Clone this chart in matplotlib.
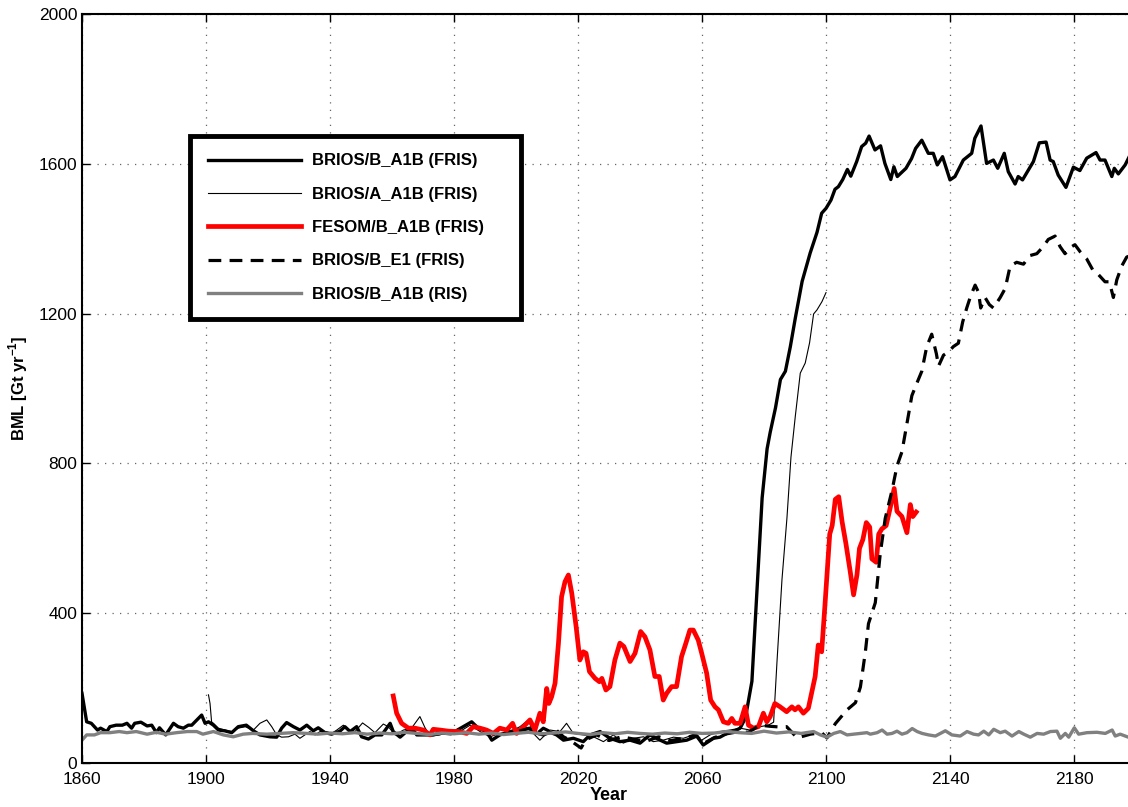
import numpy as np
import matplotlib
matplotlib.use('Agg')
import matplotlib.pyplot as plt

plt.rcParams['font.family'] = ['Liberation Sans', 'DejaVu Sans']
plt.rcParams['mathtext.fontset'] = 'custom'
plt.rcParams['mathtext.rm'] = 'Liberation Sans'
plt.rcParams['mathtext.bf'] = 'Liberation Sans:bold'

# BRIOS/B_A1B (FRIS) - thick black
bab_years = [1860, 1861.5, 1863, 1864, 1865, 1866, 1868, 1869, 1871, 1873, 1874.5, 1876, 1877, 1879,
             1881, 1882.5, 1884, 1885, 1887, 1889.5, 1891, 1892.7, 1894.3, 1895.4, 1898.6, 1899.7,
             1900.8, 1902.4, 1904, 1906, 1908.3, 1910.4, 1913, 1915.3, 1917.4, 1920.6, 1922.8, 1924.4,
             1926, 1928.2, 1930.3, 1932.5, 1934.6, 1936.2, 1938.4, 1940.5, 1943.2, 1944.8, 1946.5,
             1948.6, 1950.2, 1952.4, 1954.5, 1956.7, 1959.4, 1960.4, 1962.6, 1964.7, 1966.9, 1968,
             1970.6, 1973.3, 1976, 1979, 1983, 1985.7, 1987.8, 1990.5, 1992.2, 1994.8, 1998.1, 2000.8,
             2004.5, 2006.5, 2008.8, 2011, 2013.1, 2015.3, 2018.5, 2021.7, 2023.9, 2027.1, 2030.3,
             2033.5, 2036.8, 2040, 2043.2, 2046.5, 2048.6, 2051.8, 2055.1, 2058.3, 2060.4, 2063.7,
             2065.8, 2068, 2070.1, 2072.3, 2074, 2076.1, 2077.2, 2078.3, 2079.4, 2081, 2082, 2083.7,
             2085.3, 2086.9, 2088.5, 2090.1, 2092.3, 2094.9, 2097.1, 2098.6, 2100, 2101.6, 2102.9,
             2104, 2105.4, 2106.9, 2108, 2109.9, 2111.5, 2112.8, 2113.9, 2115.8, 2117.6, 2119, 2120.9,
             2121.9, 2123, 2125.8, 2127.6, 2128.9, 2130.9, 2133, 2134.6, 2135.9, 2137.6, 2140, 2141.6,
             2144.3, 2147, 2148, 2150, 2151.8, 2154, 2155.4, 2157.5, 2158.8, 2161, 2162, 2163.4,
             2166.9, 2168.8, 2171, 2172.3, 2173.3, 2174.9, 2177.4, 2179.8, 2181.9, 2184.1, 2187.1,
             2188.4, 2190, 2192.2, 2193, 2194.3, 2196.5, 2198, 2200]
bab_vals = [186, 110, 106, 97, 88, 93, 84, 97, 101, 101, 106, 93, 106, 109,
            99, 101, 81, 94, 75, 106, 97, 93, 101, 101, 128, 106,
            110, 101, 88, 86, 81, 97, 101, 86, 75, 70, 69, 93,
            108, 97, 88, 101, 86, 94, 81, 77, 85, 97, 84,
            97, 70, 64, 75, 75, 106, 84, 69, 84, 88, 75,
            75, 75, 80, 78, 97, 110, 93, 84, 61, 75, 84, 88,
            93, 80, 75, 82, 75, 61, 66, 57, 75, 84, 66,
            57, 61, 53, 75, 61, 53, 57, 61, 72, 48, 66,
            69, 79, 84, 93, 120, 218, 381, 545, 708, 839, 883, 948,
            1024, 1046, 1112, 1188, 1286, 1362, 1417, 1468, 1481, 1503, 1532,
            1539, 1558, 1585, 1567, 1606, 1646, 1655, 1674, 1637, 1648, 1601, 1558,
            1592, 1566, 1588, 1614, 1641, 1663, 1628, 1628, 1597, 1619, 1557, 1566,
            1610, 1628, 1668, 1701, 1601, 1610, 1588, 1628, 1579, 1546, 1566, 1557,
            1606, 1656, 1658, 1610, 1606, 1570, 1537, 1591, 1582, 1615, 1630,
            1610, 1610, 1566, 1588, 1573, 1597, 1622, 1625]

# BRIOS/A_A1B (FRIS) - thin black
baa_years = [1900.8, 1901.3, 1901.8, 1902.4, 1904, 1906.1, 1908.3, 1910.4, 1912.6, 1915.3, 1917.4,
             1919.6, 1921.2, 1922.8, 1924.4, 1926.6, 1928.7, 1930.3, 1931.9, 1933.5, 1935.2, 1936.8,
             1938.9, 1940.5, 1942.2, 1944.3, 1946, 1948.1, 1950.5, 1952.5, 1954.5, 1957.2, 1958.8,
             1961, 1963.7, 1966.3, 1969, 1970.6, 1972.3, 1975.5, 1978.7, 1981.9, 1985.2, 1988.4,
             1991.6, 1994.8, 1998.1, 2001.3, 2004, 2005.6, 2007.7, 2011, 2014.2, 2016.3, 2018.5,
             2021.7, 2025, 2028.2, 2031.4, 2034.6, 2037.9, 2041.1, 2044.3, 2047.5, 2050.8, 2054,
             2057.2, 2059.9, 2062.6, 2065.8, 2069, 2072.3, 2075.5, 2078.7, 2081.4, 2083.1, 2084.2,
             2085.8, 2087.4, 2088.7, 2090.1, 2091.7, 2093.3, 2094.7, 2096, 2097.1, 2098.7, 2100]
baa_vals = [182, 159, 110, 106, 93, 88, 84, 93, 97, 88, 106,
            115, 97, 75, 69, 70, 77, 66, 75, 84, 75, 84,
            84, 79, 88, 101, 88, 84, 107, 95, 81, 104, 97,
            75, 88, 93, 124, 95, 72, 75, 88, 84, 101, 84,
            70, 79, 84, 97, 115, 79, 61, 88, 84, 106, 79,
            75, 70, 57, 75, 53, 66, 70, 57, 61, 69, 66,
            75, 61, 75, 84, 88, 93, 88, 97, 101, 109, 272,
            490, 654, 817, 926, 1041, 1068, 1122, 1199, 1210, 1232, 1256]

# FESOM/B_A1B (FRIS) - red
fes_years = [1960.4, 1961.5, 1963.1, 1965.3, 1967.4, 1970.1, 1972.3, 1973.3, 1975.5, 1978.2, 1981.4,
             1984.1, 1986.2, 1988.4, 1990.5, 1992.7, 1994.8, 1997, 1998.9, 2000.2, 2002.4, 2004.5,
             2006.1, 2007.7, 2008.8, 2009.9, 2010.6, 2011.5, 2012.6, 2013.7, 2014.7, 2015.8, 2016.9,
             2018, 2019.4, 2020.6, 2021.7, 2022.6, 2023.7, 2025.5, 2026.9, 2027.7, 2029, 2030.3,
             2031.9, 2033.5, 2034.8, 2036.8, 2038.4, 2040.2, 2041.6, 2043.2, 2044.8, 2046.2, 2047.5,
             2048.6, 2050.2, 2051.8, 2053.4, 2054.8, 2056.1, 2057.2, 2058.8, 2059.9, 2061.5, 2062.8,
             2064.2, 2065.3, 2066.9, 2068.5, 2069.6, 2070.6, 2072.3, 2073.9, 2075, 2076.6, 2078.2,
             2079.8, 2080.9, 2082, 2083.5, 2085.2, 2087.3, 2089, 2090, 2091.1, 2092.7, 2094.3, 2096.5,
             2097.5, 2098.6, 2099.7, 2101.2, 2102, 2103, 2104.1, 2105.2, 2106.4, 2107.8, 2108.9, 2110,
             2110.8, 2111.9, 2113, 2114.1, 2114.8, 2116.2, 2117, 2118, 2119.4, 2120.7, 2122, 2122.9,
             2124.5, 2126.1, 2127.2, 2128, 2129.1]
fes_vals = [179, 133, 106, 93, 93, 88, 75, 90, 88, 85, 84,
            79, 97, 93, 88, 79, 93, 88, 106, 79, 97, 115,
            88, 133, 110, 199, 159, 177, 213, 320, 444, 484, 502,
            453, 364, 275, 297, 293, 244, 226, 217, 226, 195, 204,
            275, 320, 311, 271, 293, 351, 337, 302, 231, 231, 168,
            186, 204, 204, 284, 320, 355, 355, 328, 293, 240, 168,
            150, 142, 110, 106, 119, 106, 106, 150, 101, 93, 97,
            133, 110, 124, 159, 150, 137, 150, 142, 150, 133, 146, 231,
            315, 297, 426, 611, 634, 704, 711, 644, 587, 512, 449, 503,
            573, 597, 642, 630, 545, 536, 611, 625, 634, 681, 733, 672,
            658, 615, 690, 658, 670]

# BRIOS/B_E1 (FRIS) - dashed black
be1_years = [2001, 2004, 2007, 2008.8, 2011, 2013, 2015.3, 2017.4, 2019.6, 2021, 2022.5, 2026, 2030,
             2034, 2038, 2042, 2046, 2050, 2054, 2058, 2060.5, 2064, 2068, 2072, 2075, 2078.7, 2082,
             2085.3, 2087.3, 2090.7, 2095, 2098.6, 2100.3, 2103, 2106.8, 2109.5, 2111.1, 2112.7,
             2113.7, 2115.9, 2117.5, 2119.1, 2121.3, 2122.9, 2124.5, 2126.1, 2127.7, 2129.3, 2130.9,
             2132.5, 2134.1, 2135.6, 2136.3, 2137.9, 2139.5, 2141.1, 2142.7, 2144.1, 2145.4, 2146.7,
             2148.1, 2149.2, 2149.9, 2151.3, 2152.7, 2154, 2156.2, 2157.8, 2159.4, 2161.5, 2163.7,
             2165.8, 2168, 2170.1, 2171.7, 2173.9, 2175.5, 2177.1, 2179.3, 2180.3, 2182, 2184.1,
             2186.3, 2187.9, 2190, 2191.4, 2192.7, 2193.8, 2195.4, 2197, 2200]
be1_vals = [85, 92, 80, 93, 84, 88, 70, 61, 48, 40, 62, 75, 60,
            70, 64, 58, 70, 60, 66, 75, 52, 68, 78, 84, 82, 101, 98,
            96, 97, 67, 77, 81, 67, 105, 142, 161, 203, 297,
            372, 428, 559, 653, 728, 793, 831, 906, 981, 1014, 1046,
            1112, 1145, 1093, 1060, 1089, 1098, 1112, 1121, 1178, 1215, 1248,
            1276, 1257, 1215, 1243, 1224, 1215, 1243, 1267, 1327, 1337, 1332,
            1355, 1360, 1379, 1398, 1407, 1379, 1360, 1379, 1384, 1365, 1346,
            1313, 1304, 1285, 1285, 1243, 1290, 1327, 1351, 1360]

# BRIOS/B_A1B (RIS) - gray
ris_years = [1860, 1861.5, 1864, 1866, 1869, 1872, 1874.5, 1877.5, 1881, 1884, 1887, 1890.5, 1894,
             1897, 1899, 1902.4, 1905.6, 1908.8, 1912, 1915, 1919.6, 1924, 1928, 1932.5, 1936, 1940,
             1944, 1948, 1952, 1956, 1960, 1964, 1968, 1972, 1976, 1980, 1984, 1988, 1992, 1996, 2000,
             2004, 2008, 2012, 2016, 2020, 2024, 2028, 2032, 2036, 2040, 2044, 2048, 2052, 2056, 2060,
             2064, 2068, 2072, 2076, 2080, 2084, 2088, 2092, 2096, 2098.2, 2100.3, 2102.5, 2104.6,
             2106.8, 2108.9, 2111.1, 2113.2, 2114.3, 2116.5, 2118.1, 2119.7, 2121.3, 2122.9, 2124.5,
             2126.1, 2127.8, 2129.4, 2131, 2133.1, 2135.3, 2138.5, 2140.6, 2143.3, 2145.5, 2147.6,
             2149.2, 2150.9, 2152.5, 2154.1, 2156.2, 2157.8, 2160, 2162.2, 2163.8, 2165.9, 2168.1,
             2170.2, 2172.4, 2174.5, 2175.6, 2177.2, 2178.3, 2180.1, 2181.5, 2184.2, 2187.4, 2190.1,
             2192.3, 2193.3, 2194.9, 2197.5, 2200]
ris_vals = [61, 75, 75, 81, 81, 84, 81, 84, 77, 82, 77, 81, 84,
            84, 77, 84, 75, 70, 77, 79, 77, 79, 81, 79, 77, 80,
            78, 81, 77, 80, 78, 82, 79, 76, 80, 78, 81, 77, 80, 76, 79,
            82, 78, 80, 83, 79, 76, 81, 78, 82, 79, 77, 80, 78, 82, 79,
            80, 84, 81, 79, 85, 80, 83, 79, 84, 75, 69, 79, 84,
            75, 77, 79, 81, 77, 81, 88, 77, 79, 85, 77,
            81, 92, 84, 79, 75, 72, 86, 75, 72, 84, 77,
            75, 85, 75, 90, 81, 85, 72, 84, 77, 69, 79,
            77, 84, 85, 66, 79, 69, 94, 77, 81, 82, 79,
            88, 72, 77, 69, 72]

fig = plt.figure(figsize=(11.28, 8.07), dpi=100)
# axes run past the right edge of the figure, as in the original
ax = fig.add_axes([82 / 1128, 44 / 807, 1054 / 1128, 749 / 807])

ax.plot(bab_years, bab_vals, color='black', lw=2.4, label='BRIOS/B_A1B (FRIS)')
ax.plot(baa_years, baa_vals, color='black', lw=0.8, label='BRIOS/A_A1B (FRIS)')
ax.plot(fes_years, fes_vals, color='#ff0000', lw=3.4, label='FESOM/B_A1B (FRIS)')
ax.plot(be1_years, be1_vals, color='black', lw=2.3, ls=(0, (4, 2.6)), label='BRIOS/B_E1 (FRIS)')
ax.plot(ris_years, ris_vals, color='#808080', lw=2.4, label='BRIOS/B_A1B (RIS)')

ax.set_xlim(1860, 2200)
ax.set_ylim(0, 2000)
ax.set_xticks(np.arange(1860, 2201, 40))
ax.set_yticks(np.arange(0, 2001, 400))
ax.tick_params(direction='in', top=True, right=True, length=6, width=1, labelsize=12.5)
ax.tick_params(axis='x', pad=6.5)
ax.tick_params(axis='y', pad=3.5)
ax.grid(True, color='0.4', ls=(0, (1, 5)), lw=0.9)
for s in ax.spines.values():
    s.set_linewidth(1.5)

ax.set_xlabel('Year', fontsize=13, fontweight='bold', labelpad=0)
ax.set_ylabel(r'BML [Gt yr$^{\mathbf{-1}}$]', fontsize=12, fontweight='bold', labelpad=6)

leg = ax.legend(loc='upper left', bbox_to_anchor=(190 / 1128, 1 - 324 / 807, 331 / 1128, 188 / 807),
                bbox_transform=fig.transFigure, mode='expand', borderaxespad=0, fancybox=False,
                prop={'weight': 'bold', 'size': 12}, handlelength=5.6, handletextpad=0.7,
                borderpad=1.05, labelspacing=1.1, framealpha=1)
leg.get_frame().set_edgecolor('black')
leg.get_frame().set_linewidth(3.5)

fig.savefig('out.png', dpi=100)
